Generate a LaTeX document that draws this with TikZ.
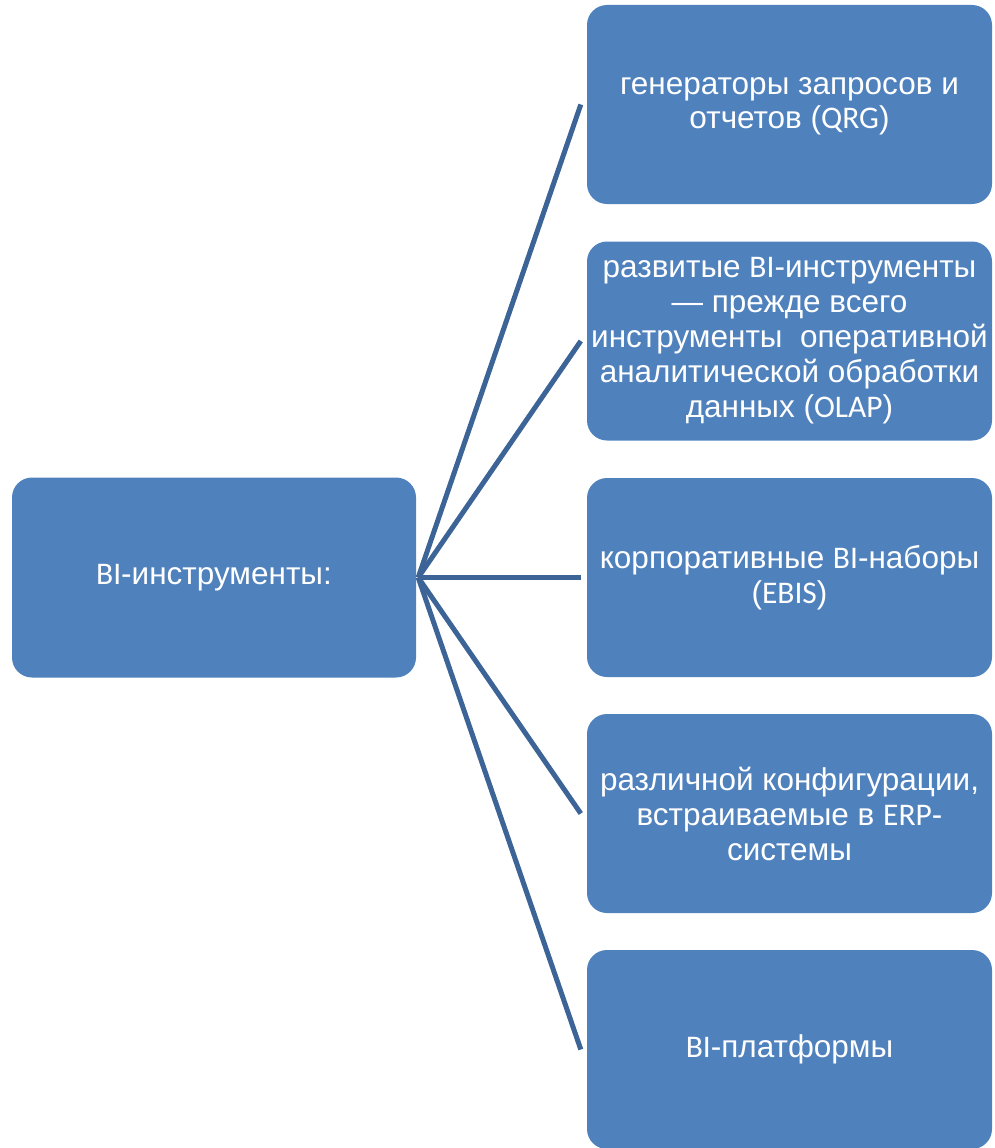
\documentclass[tikz,border=0pt]{standalone}
\usepackage{fontspec}
\setmainfont{Liberation Sans}
\newfontfamily\latfont{Carlito}
\begin{document}
\begin{tikzpicture}[x=1pt,y=-1pt]
\definecolor{boxblue}{HTML}{4F81BD}
\definecolor{lineblue}{HTML}{3C6496}
\tikzset{
  bbox/.style={fill=boxblue, rounded corners=20pt, minimum width=405pt, minimum height=199pt,
    text=white, align=center, font=\fontsize{31.5}{35}\selectfont, inner sep=0pt},
  conn/.style={draw=lineblue, line width=5pt}
}
\useasboundingbox (0,0) rectangle (995,1148);
\node[bbox, minimum width=404pt, minimum height=200pt] (root) at (214,577.5) {{\latfont BI}-инструменты:};
\node[bbox] (r1) at (789.5,104.5) {\raisebox{-4pt}{\begin{tabular}{@{}c@{}}генераторы запросов и\\[-1pt]отчетов ({\latfont QRG})\end{tabular}}};
\node[bbox] (r2) at (789.5,341) {развитые {\latfont BI}-инструменты\\— прежде всего\\инструменты\ \ оперативной\\аналитической обработки\\данных ({\latfont OLAP})};
\node[bbox] (r3) at (789.5,577.5) {корпоративные {\latfont BI}-наборы\\({\latfont EBIS})};
\node[bbox] (r4) at (789.5,813.5) {различной конфигурации,\\встраиваемые в {\latfont ERP}-\\системы};
\node[bbox] (r5) at (789.5,1049.5) {{\latfont BI}-платформы};
\coordinate (hub) at ([xshift=2pt]root.east);
\foreach \r in {r1,r2,r3,r4,r5}{
  \draw[conn] (hub) -- ([xshift=-6pt]\r.west);
}
\end{tikzpicture}
\end{document}
